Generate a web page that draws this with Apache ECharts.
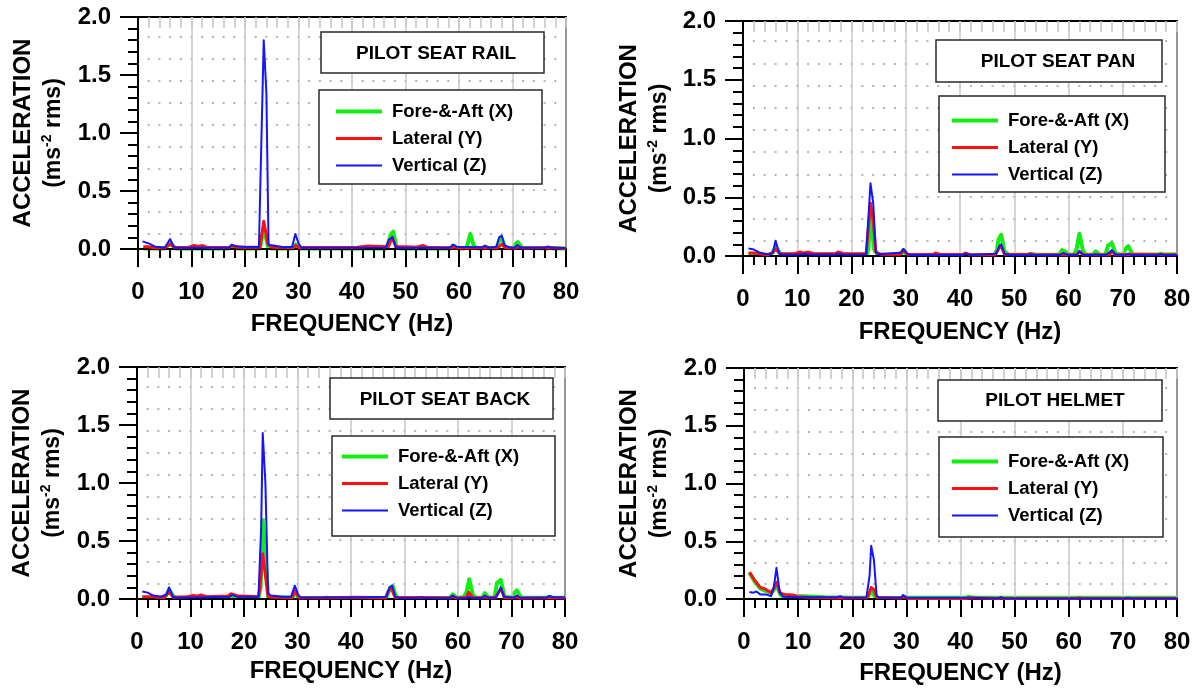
<!DOCTYPE html>
<html>
<head>
<meta charset="utf-8">
<script src="https://cdn.jsdelivr.net/npm/echarts@6/dist/echarts.min.js"></script>
<style>
  html, body { margin: 0; padding: 0; background: #fff; }
  #chart { width: 1197px; height: 690px; }
</style>
</head>
<body>
<div id="chart"></div>
<script>
// ---- Data: vibration spectra, acceleration (m/s^2 rms) vs frequency (Hz) ----
const panelTitles = ['PILOT SEAT RAIL', 'PILOT SEAT PAN', 'PILOT SEAT BACK', 'PILOT HELMET'];
const seriesNames = ['Fore-&-Aft (X)', 'Lateral (Y)', 'Vertical (Z)'];
const xAxisTitle = 'FREQUENCY (Hz)';
const yAxisTitle = 'ACCELERATION';
const yAxisUnit = '(ms{sup|-2} rms)';

// Seat rail
const railX = [[1,0.005],[5,0.005],[6,0.05],[7,0.005],[17,0.005],[17.5,0.015],[18.5,0.005],[22.8,0.005],[23.5,0.18],[24.3,0.02],[25,0.005],[29,0.005],[29.5,0.04],[30.3,0.005],[46.5,0.005],[46.8,0.02],[47.2,0.12],[47.7,0.15],[48.3,0.02],[49,0.005],[58.5,0.005],[59,0.03],[59.8,0.005],[61,0.005],[61.5,0.02],[62.1,0.13],[62.8,0.02],[63.5,0.005],[64.5,0.005],[65,0.02],[65.7,0.005],[67,0.005],[67.5,0.07],[68,0.09],[68.7,0.01],[70,0.005],[70.5,0.04],[71,0.06],[71.8,0.01],[76.5,0.005],[77,0.01],[77.5,0.005],[80,0.005]];
const railY = [[1,0.02],[2,0.02],[3,0.01],[5,0.01],[6,0.04],[7,0.012],[9.5,0.015],[10.5,0.03],[11.3,0.022],[12,0.03],[13,0.012],[17,0.012],[17.5,0.028],[18.5,0.015],[22.8,0.015],[23.5,0.24],[24.3,0.04],[25,0.015],[29,0.012],[29.5,0.03],[30.2,0.012],[41,0.015],[43,0.025],[46.8,0.02],[47.5,0.1],[48.2,0.02],[50,0.02],[52,0.015],[53.3,0.03],[54.2,0.012],[58.5,0.01],[59,0.02],[60,0.008],[62,0.012],[67,0.01],[67.5,0.02],[68,0.04],[68.7,0.01],[70.5,0.008],[71,0.02],[72,0.008],[77,0.012],[80,0.005]];
const railZ = [[0.85,0.066],[2.1,0.046],[3.2,0.02],[5,0.01],[6,0.086],[6.8,0.01],[17,0.01],[17.5,0.037],[18.5,0.023],[20,0.017],[22.6,0.017],[23.5,1.80],[24,1.34],[24.4,0.037],[25.3,0.03],[27,0.017],[28.8,0.017],[29.4,0.13],[30,0.05],[30.6,0.01],[46.3,0.012],[46.9,0.08],[47.6,0.1],[48.1,0.02],[48.8,0.01],[58.3,0.01],[58.8,0.037],[59.5,0.02],[61.8,0.017],[64.3,0.012],[64.8,0.03],[65.5,0.01],[67,0.02],[67.5,0.1],[68,0.115],[68.5,0.03],[69.8,0.01],[70.4,0.01],[70.9,0.035],[71.6,0.01],[76.1,0.01],[76.6,0.022],[77.3,0.01],[80,0.009]];

// Seat pan
const panX = [[1,0.01],[5,0.01],[5.5,0.03],[6,0.08],[7,0.01],[22.8,0.01],[23.1,0.05],[23.5,0.35],[24.2,0.05],[25,0.008],[29,0.008],[29.5,0.05],[30.3,0.008],[46.3,0.01],[46.8,0.05],[47.1,0.14],[47.6,0.18],[48.2,0.04],[49,0.01],[52.5,0.01],[53,0.02],[54,0.01],[58.3,0.01],[58.8,0.05],[59.6,0.03],[60.3,0.01],[61,0.01],[61.5,0.06],[62,0.19],[62.7,0.04],[63.3,0.01],[64.5,0.01],[65,0.04],[65.8,0.01],[66.8,0.01],[67.3,0.09],[68,0.11],[68.7,0.02],[70,0.01],[70.5,0.06],[71,0.085],[71.8,0.015],[76.5,0.012],[77,0.02],[77.6,0.012],[80,0.015]];
const panY = [[1,0.025],[2,0.025],[3,0.02],[4.5,0.01],[5.5,0.03],[6,0.06],[6.8,0.02],[9.5,0.02],[10.5,0.035],[11.2,0.025],[12,0.035],[13,0.02],[17,0.02],[17.5,0.035],[18.5,0.02],[22.7,0.02],[23.5,0.45],[24,0.3],[24.5,0.03],[25.5,0.015],[29,0.015],[29.5,0.05],[30.3,0.015],[35,0.012],[35.5,0.025],[36.5,0.012],[40.5,0.012],[41,0.025],[42,0.01],[46.5,0.01],[47,0.05],[47.5,0.09],[48.2,0.015],[52.5,0.012],[53,0.02],[53.7,0.01],[59,0.01],[61.5,0.01],[62,0.04],[62.7,0.01],[67.5,0.01],[68,0.04],[68.7,0.01],[70.5,0.01],[71,0.015],[80,0.01]];
const panZ = [[1,0.065],[2,0.055],[3,0.03],[4,0.02],[5,0.015],[5.5,0.03],[6,0.13],[6.7,0.02],[7.5,0.012],[10,0.012],[11.5,0.02],[12.5,0.012],[17,0.012],[17.5,0.02],[18.5,0.012],[22.7,0.015],[23.5,0.62],[24,0.45],[24.5,0.03],[25,0.015],[29.2,0.03],[29.6,0.06],[30.3,0.02],[31,0.008],[40.5,0.008],[41,0.02],[42,0.008],[46.7,0.02],[47.2,0.08],[47.6,0.1],[48.2,0.02],[49,0.008],[52.5,0.008],[53,0.015],[53.6,0.008],[58.5,0.008],[59,0.025],[60,0.008],[61.5,0.008],[62,0.04],[62.8,0.008],[64.5,0.008],[65,0.015],[65.6,0.008],[67,0.01],[67.5,0.03],[68,0.05],[68.7,0.01],[70.5,0.01],[71,0.02],[71.6,0.008],[76.5,0.008],[77,0.015],[77.6,0.008],[80,0.008]];

// Seat back
const backX = [[1,0.01],[5,0.01],[5.5,0.03],[6,0.08],[7,0.01],[22.7,0.01],[23.1,0.1],[23.5,0.68],[24,0.35],[24.5,0.02],[29,0.01],[29.5,0.06],[30.3,0.008],[46.5,0.008],[46.8,0.02],[47.4,0.1],[47.8,0.11],[48.4,0.02],[49,0.008],[58.5,0.01],[59,0.04],[59.7,0.015],[61,0.01],[61.6,0.06],[62.1,0.17],[62.8,0.03],[63.5,0.01],[64.5,0.01],[65,0.05],[65.8,0.01],[66.8,0.01],[67.3,0.14],[68,0.165],[68.7,0.02],[70,0.01],[70.5,0.05],[71,0.075],[71.8,0.01],[76.5,0.01],[77,0.02],[77.6,0.01],[80,0.01]];
const backY = [[1,0.02],[3,0.02],[5,0.01],[6,0.06],[6.8,0.015],[9.5,0.02],[10.5,0.03],[11.2,0.025],[12,0.035],[13,0.02],[17,0.025],[17.5,0.045],[18.3,0.035],[19,0.025],[22.7,0.02],[23,0.1],[23.5,0.39],[24,0.2],[24.5,0.02],[25.5,0.015],[29,0.012],[29.5,0.07],[30.3,0.01],[35,0.01],[35.5,0.015],[36,0.01],[41,0.015],[46.5,0.01],[47,0.07],[47.5,0.1],[48.2,0.015],[58.5,0.01],[59,0.02],[59.6,0.01],[61.5,0.01],[62,0.06],[62.8,0.01],[64.5,0.01],[65,0.02],[65.6,0.01],[67,0.01],[67.5,0.05],[68,0.09],[68.7,0.01],[70.5,0.01],[71,0.02],[71.6,0.008],[80,0.01]];
const backZ = [[1,0.065],[2,0.055],[3,0.03],[4.5,0.02],[5.5,0.04],[6,0.1],[6.7,0.02],[7.5,0.01],[17.3,0.02],[17.8,0.035],[18.6,0.02],[22.7,0.02],[23.2,0.6],[23.5,1.43],[24,1.0],[24.5,0.05],[25,0.03],[26,0.025],[27,0.02],[28.8,0.02],[29.5,0.115],[30.1,0.04],[30.6,0.01],[35.5,0.012],[41,0.012],[46.6,0.02],[47.2,0.1],[47.7,0.115],[48.3,0.02],[49,0.008],[52.5,0.008],[53,0.015],[53.6,0.008],[58.5,0.008],[59,0.03],[59.7,0.01],[61.5,0.008],[62,0.02],[62.6,0.008],[64.5,0.008],[65,0.03],[65.7,0.01],[67,0.01],[67.5,0.05],[68,0.1],[68.6,0.02],[70.5,0.01],[71,0.03],[71.7,0.01],[76.5,0.01],[77,0.025],[78,0.015],[80,0.012]];

// Helmet
const helmetX = [[1,0.23],[2,0.15],[3,0.09],[4,0.07],[5,0.05],[5.5,0.08],[6,0.12],[6.8,0.03],[8,0.02],[10,0.025],[12,0.022],[15,0.015],[20,0.01],[22.8,0.01],[23.5,0.07],[24.2,0.02],[25,0.008],[29,0.008],[29.5,0.02],[30.3,0.01],[41,0.01],[41.5,0.02],[42.5,0.01],[80,0.01]];
const helmetY = [[1,0.23],[2,0.16],[3,0.1],[4,0.085],[5,0.055],[5.5,0.09],[6,0.145],[6.7,0.05],[7.5,0.04],[9,0.035],[10,0.02],[12,0.015],[16,0.01],[18,0.008],[22.8,0.01],[23.5,0.1],[24,0.08],[24.5,0.015],[29,0.008],[29.5,0.02],[30.3,0.005],[41,0.005],[41.5,0.01],[47,0.005],[47.5,0.01],[48,0.005],[61.5,0.005],[62,0.01],[62.5,0.005],[80,0.005]];
const helmetZ = [[1,0.06],[1.7,0.055],[2.3,0.065],[3,0.04],[4,0.04],[5,0.025],[5.5,0.1],[6,0.27],[6.6,0.06],[7.2,0.02],[10,0.015],[17.3,0.015],[17.8,0.025],[18.5,0.01],[22.6,0.01],[23.2,0.2],[23.5,0.46],[24,0.34],[24.5,0.03],[25,0.01],[29,0.01],[29.4,0.035],[30,0.01],[41.5,0.01],[47,0.005],[47.5,0.015],[48,0.005],[70.5,0.005],[71,0.01],[71.5,0.005],[80,0.005]];

const panelData = [
  [railX, railY, railZ],
  [panX, panY, panZ],
  [backX, backY, backZ],
  [helmetX, helmetY, helmetZ]
];

// ---- Styling ----
const FONT = '"Liberation Sans", Arial, Helvetica, sans-serif';
const lineColors = ['#12ee12', '#ff1010', '#1414ff'];
const lineWidths = [4, 3, 2];

// plot frame and annotation placement of each panel (pixels)
const layout = [
  { grid: [138, 17, 428, 232], titleBox: [321, 32, 223, 41], titleAt: [436, 54], legBox: [319, 90, 223, 94], legAt: [334, 102], yTitleX: [23, 54], xTitleY: 324 },
  { grid: [743, 21, 434, 235], titleBox: [936, 40, 226, 42], titleAt: [1058, 62], legBox: [939, 96, 226, 96], legAt: [950, 111], yTitleX: [629, 660], xTitleY: 332 },
  { grid: [137, 367, 428, 232], titleBox: [330, 378, 223, 41], titleAt: [445, 400], legBox: [332, 436, 223, 100], legAt: [340, 447], yTitleX: [22, 53], xTitleY: 671 },
  { grid: [744, 368, 433, 231], titleBox: [938, 380, 224, 41], titleAt: [1055, 401], legBox: [939, 437, 224, 100], legAt: [950, 452], yTitleX: [629, 660], xTitleY: 673 }
];

const grid = [], xAxis = [], yAxis = [], series = [], legend = [], graphic = [];

layout.forEach((L, i) => {
  const [gl, gt, gw, gh] = L.grid;
  const gIdx = grid.length;
  grid.push({ left: gl, top: gt, width: gw, height: gh, containLabel: false });
  // dotted background rows
  const dotTop = gt + gh * 0.086;
  const dotBottom = gt + gh * (1 - 0.0647);
  const dIdx = grid.length;
  grid.push({ left: gl, top: dotTop, width: gw, height: dotBottom - dotTop, containLabel: false, z: 0 });

  const pitch = gw / 40;
  const bx = xAxis.length;
  xAxis.push({
    gridIndex: gIdx, type: 'value', position: 'bottom', min: 0, max: 80, interval: 10,
    axisLine: { show: true, onZero: false, lineStyle: { color: '#000', width: 2 } },
    axisTick: { show: true, inside: false, length: 18, lineStyle: { color: '#000', width: 2 } },
    minorTick: { show: true, splitNumber: 5, length: 9, lineStyle: { color: '#000', width: 2 } },
    axisLabel: { show: true, margin: 31, color: '#000', fontFamily: FONT, fontWeight: 'bold', fontSize: 24 },
    splitLine: { show: true, lineStyle: { color: '#c9c9c9', width: 1.5 } },
    z: 3
  });
  xAxis.push({
    gridIndex: gIdx, type: 'value', position: 'top', min: 0, max: 80, interval: 2,
    axisLine: { show: true, onZero: false, lineStyle: { color: '#000', width: 2 } },
    axisTick: { show: true, inside: true, length: 11, lineStyle: { color: '#c4c4c4', width: 1.5 } },
    axisLabel: { show: false }, splitLine: { show: false }
  });
  xAxis.push({ gridIndex: dIdx, type: 'value', min: 0, max: 80, show: false });

  const ly = yAxis.length;
  yAxis.push({
    gridIndex: gIdx, type: 'value', position: 'left', min: 0, max: 2, interval: 0.5,
    axisLine: { show: true, onZero: false, lineStyle: { color: '#000', width: 2 } },
    axisTick: { show: true, inside: false, length: 18, lineStyle: { color: '#000', width: 2 } },
    minorTick: { show: true, splitNumber: 5, length: 10, lineStyle: { color: '#000', width: 2 } },
    axisLabel: { show: true, margin: 27, color: '#000', fontFamily: FONT, fontWeight: 'bold', fontSize: 24,
      formatter: v => v.toFixed(1) },
    splitLine: { show: false },
    z: 3
  });
  yAxis.push({
    gridIndex: gIdx, type: 'value', position: 'right', min: 0, max: 2,
    axisLine: { show: true, onZero: false, lineStyle: { color: '#000', width: 2 } },
    axisTick: { show: false }, axisLabel: { show: false }, splitLine: { show: false }
  });
  yAxis.push({
    gridIndex: dIdx, type: 'value', min: 0, max: 9, interval: 1,
    axisLine: { show: false }, axisTick: { show: false }, axisLabel: { show: false },
    splitLine: { show: true, showMinLine: true, showMaxLine: true,
      lineStyle: { color: '#b4b4b4', width: 2, type: [2, pitch - 2], dashOffset: 1, cap: 'butt' } }
  });

  panelData[i].forEach((d, k) => {
    series.push({
      name: seriesNames[k], type: 'line', xAxisIndex: bx, yAxisIndex: ly,
      data: d, symbol: 'none', showSymbol: false, smooth: false, animation: false,
      lineStyle: { color: lineColors[k], width: lineWidths[k], join: 'round' },
      itemStyle: { color: lineColors[k] },
      z: 2 + k
    });
  });

  legend.push({
    data: seriesNames.map((n, k) => ({ name: n, lineStyle: { width: lineWidths[k], color: lineColors[k] } })),
    orient: 'vertical', left: L.legAt[0], top: L.legAt[1],
    itemWidth: 46, itemHeight: 18, itemGap: 8, padding: 0, z: 20,
    selectedMode: false,
    itemStyle: { opacity: 0 },
    textStyle: { color: '#000', fontFamily: FONT, fontWeight: 'bold', fontSize: 18.5, lineHeight: 18, padding: [0, 0, 0, 5] }
  });

  // panel title box and legend frame
  const [tx, ty, tw, th] = L.titleBox;
  graphic.push({ type: 'rect', z: 10, shape: { x: tx, y: ty, width: tw, height: th },
    style: { fill: '#fff', stroke: '#2a2a2a', lineWidth: 1.5 } });
  graphic.push({ type: 'text', z: 11, x: L.titleAt[0], y: L.titleAt[1],
    style: { text: panelTitles[i], fill: '#000', font: 'bold 19px ' + FONT,
      align: 'center', verticalAlign: 'middle', textAlign: 'center', textVerticalAlign: 'middle' } });
  const [lx, lyy, lw, lh] = L.legBox;
  graphic.push({ type: 'rect', z: 10, shape: { x: lx, y: lyy, width: lw, height: lh },
    style: { fill: '#fff', stroke: '#2a2a2a', lineWidth: 1.5 } });

  // axis titles
  const midY = gt + gh / 2;
  graphic.push({ type: 'text', z: 11, x: L.yTitleX[0], y: midY, rotation: Math.PI / 2,
    style: { text: yAxisTitle, fill: '#000', font: 'bold 24px ' + FONT,
      align: 'center', verticalAlign: 'middle', textAlign: 'center', textVerticalAlign: 'middle' } });
  graphic.push({ type: 'text', z: 11, x: L.yTitleX[1], y: midY, rotation: Math.PI / 2,
    style: { text: yAxisUnit, fill: '#000', font: 'bold 23px ' + FONT, lineHeight: 28,
      align: 'center', verticalAlign: 'middle', textAlign: 'center', textVerticalAlign: 'middle',
      rich: { sup: { fill: '#000', font: 'bold 14px ' + FONT, fontSize: 14, fontWeight: 'bold', fontFamily: FONT, lineHeight: 12, verticalAlign: 'top' } } } });
  graphic.push({ type: 'text', z: 11, x: gl + gw / 2, y: L.xTitleY,
    style: { text: xAxisTitle, fill: '#000', font: 'bold 24px ' + FONT,
      align: 'center', verticalAlign: 'middle', textAlign: 'center', textVerticalAlign: 'middle' } });
});

const chart = echarts.init(document.getElementById('chart'), null, { renderer: 'canvas' });
chart.setOption({
  backgroundColor: '#fff',
  animation: false,
  grid, xAxis, yAxis, series, legend,
  graphic: { elements: graphic }
});
</script>
</body>
</html>
